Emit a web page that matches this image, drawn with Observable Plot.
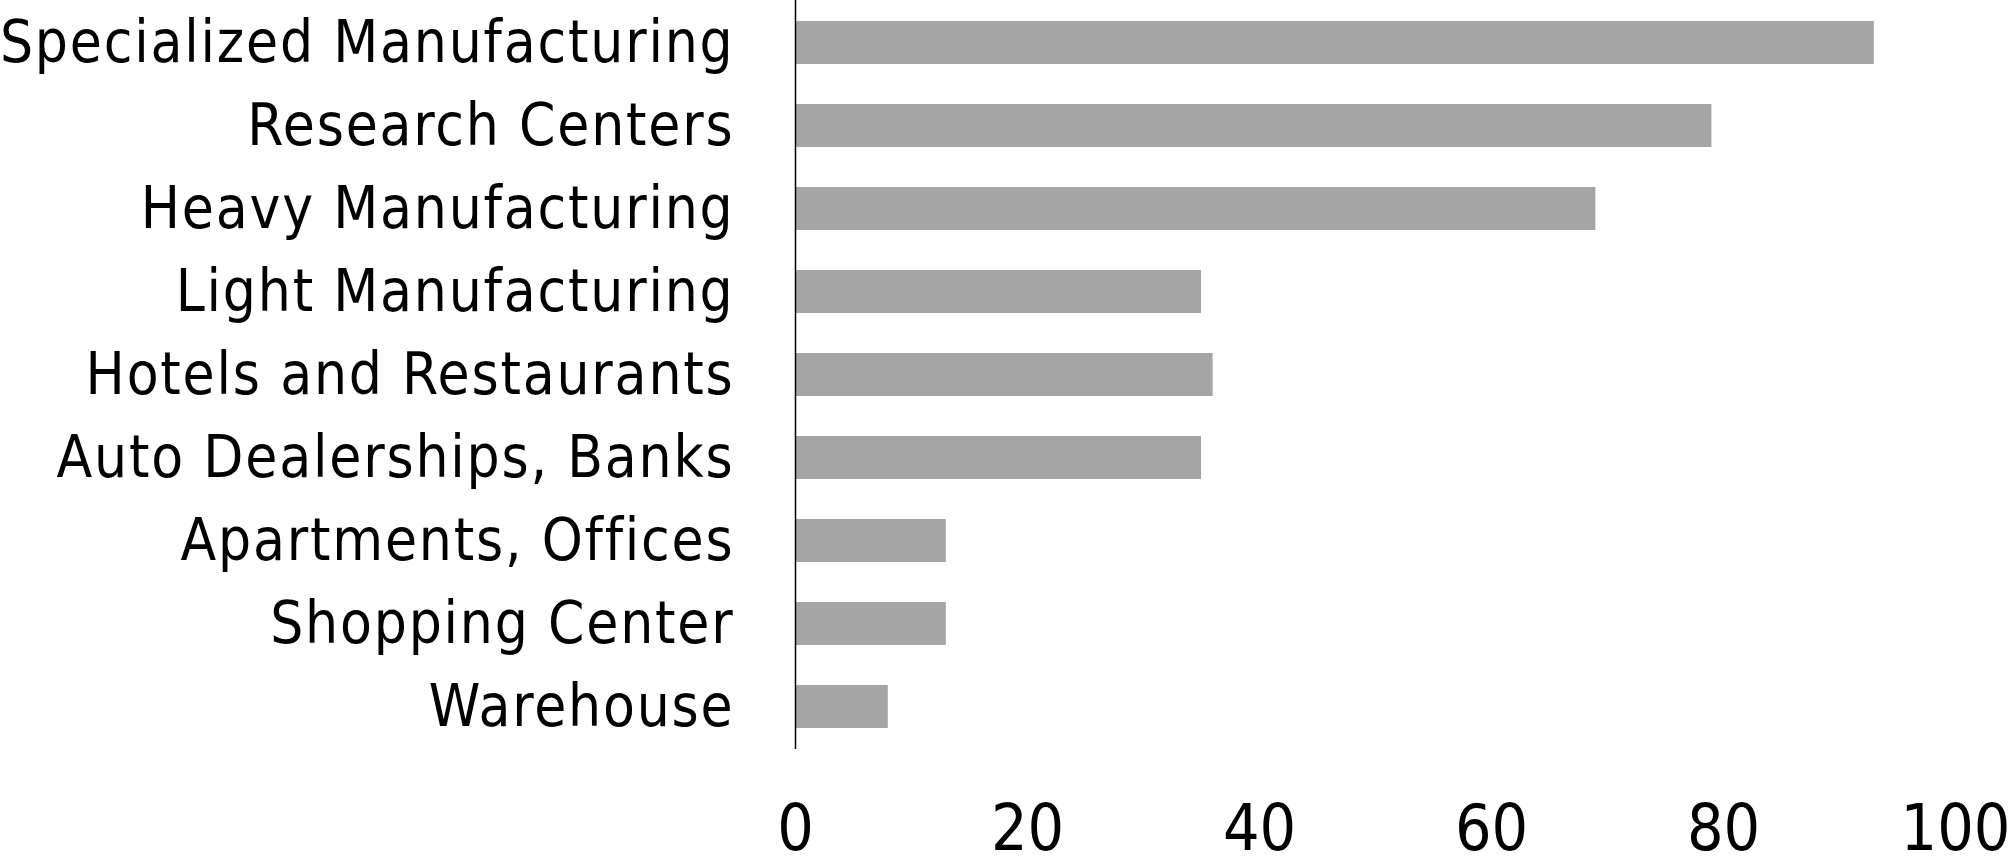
<!DOCTYPE html>
<html>
<head>
<meta charset="utf-8">
<script src="https://cdn.jsdelivr.net/npm/d3@7"></script>
<script src="https://cdn.jsdelivr.net/npm/@observablehq/plot@0.6"></script>
<style>
  html, body { margin: 0; padding: 0; background: #fff; }
  #chart svg { display: block; }
</style>
</head>
<body>
<div id="chart"></div>
<script>
const categories = [
  "Specialized Manufacturing",
  "Research Centers",
  "Heavy Manufacturing",
  "Light Manufacturing",
  "Hotels and Restaurants",
  "Auto Dealerships, Banks",
  "Apartments, Offices",
  "Shopping Center",
  "Warehouse"
];
const values = [93, 79, 69, 35, 36, 35, 13, 13, 8];
const xTicks = [0, 20, 40, 60, 80, 100];

const data = categories.map((c, i) => ({category: c, value: values[i]}));

const chart = Plot.plot({
  width: 2010,
  height: 865,
  marginTop: 0,
  marginBottom: 116,
  marginLeft: 795,
  marginRight: 55,
  style: {fontFamily: "'DejaVu Sans Condensed', 'DejaVu Sans', sans-serif", background: "#fff", color: "#000"},
  x: {domain: [0, 100], ticks: xTicks, label: null},
  y: {domain: categories, paddingInner: 0.48, paddingOuter: 0.24, label: null},
  marks: [
    Plot.barX(data, {y: "category", x: "value", fill: "#a5a5a5"}),
    Plot.ruleX([0], {stroke: "#000", strokeWidth: 1.5}),
    Plot.axisX({ticks: xTicks, tickSize: 0, tickPadding: 55, fontSize: 64, label: null, fill: "#000"}),
    Plot.axisY({tickSize: 0, tickPadding: 61, fontSize: 58, label: null, fill: "#000"})
  ]
});
d3.select(chart).selectAll('g[aria-label="y-axis tick label"] text').style("letter-spacing", "1.8px");
document.getElementById("chart").appendChild(chart);
</script>
</body>
</html>
